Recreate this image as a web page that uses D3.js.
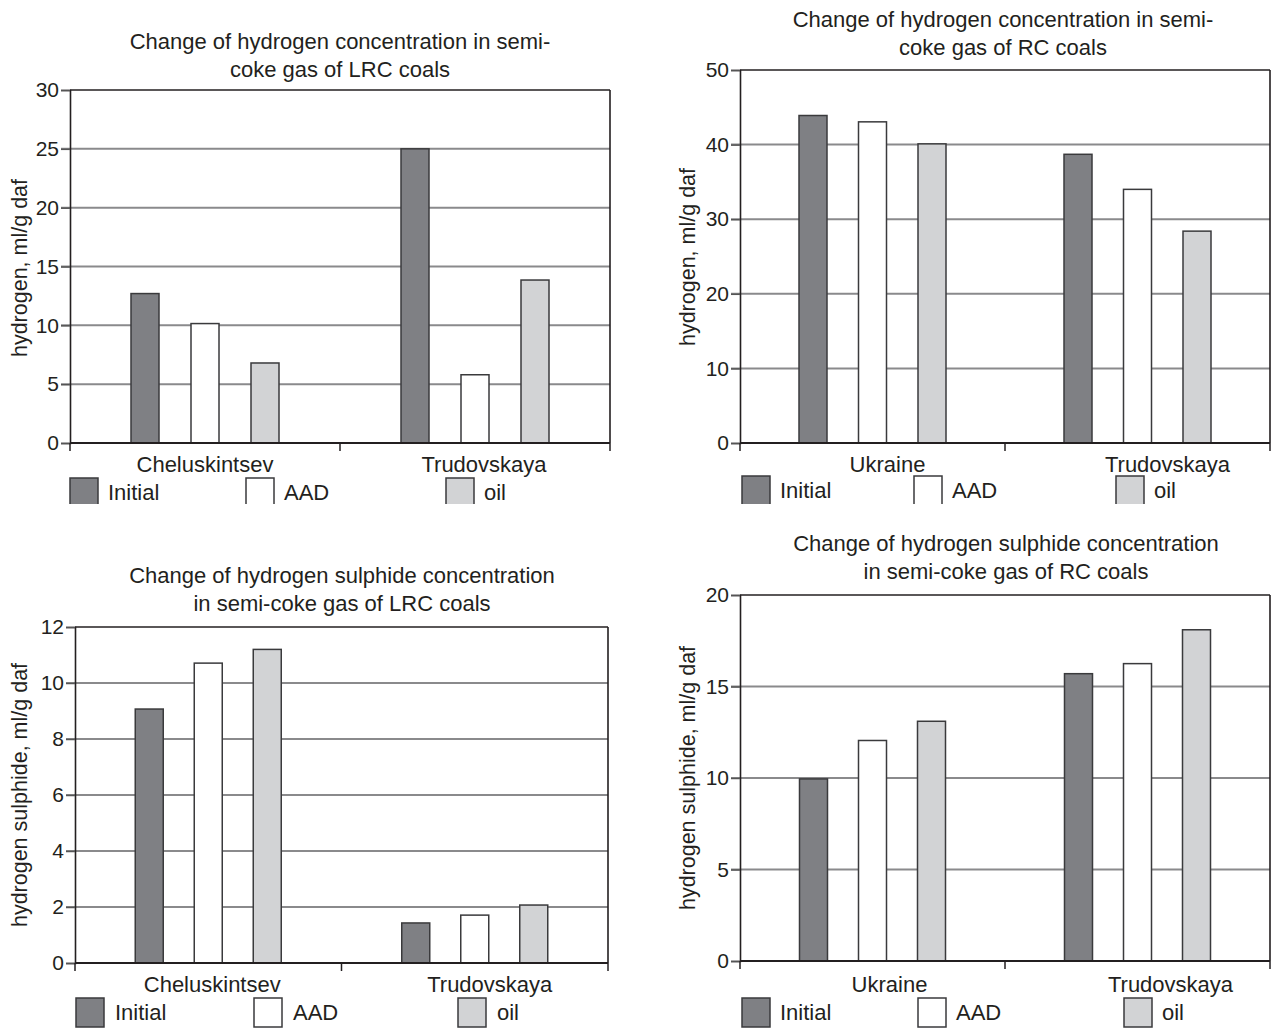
<!DOCTYPE html>
<html><head><meta charset="utf-8">
<script src="https://cdn.jsdelivr.net/npm/d3@7"></script>
<style>
html,body{margin:0;padding:0;background:#fff;}
svg{display:block;font-family:"Liberation Sans",Arial,sans-serif;}
</style></head>
<body>
<svg id="chart" width="1275" height="1028"></svg>
<script>
// ---------- DATA ----------
const seriesNames = ["Initial", "AAD", "oil"];
const seriesColors = ["#7f8084", "#ffffff", "#d2d3d5"];

const lrcCategories = ["Cheluskintsev", "Trudovskaya"];
const rcCategories = ["Ukraine", "Trudovskaya"];

// Hydrogen, LRC coals (ml/g daf)
const h2LrcInitial = [12.7, 25.0];
const h2LrcAAD = [10.15, 5.8];
const h2LrcOil = [6.8, 13.85];

// Hydrogen, RC coals
const h2RcInitial = [43.9, 38.7];
const h2RcAAD = [43.05, 34.0];
const h2RcOil = [40.1, 28.4];

// Hydrogen sulphide, LRC coals
const h2sLrcInitial = [9.07, 1.43];
const h2sLrcAAD = [10.71, 1.71];
const h2sLrcOil = [11.2, 2.07];

// Hydrogen sulphide, RC coals
const h2sRcInitial = [9.95, 15.7];
const h2sRcAAD = [12.05, 16.25];
const h2sRcOil = [13.1, 18.1];

const h2LrcTicks = [0, 5, 10, 15, 20, 25, 30];
const h2RcTicks = [0, 10, 20, 30, 40, 50];
const h2sLrcTicks = [0, 2, 4, 6, 8, 10, 12];
const h2sRcTicks = [0, 5, 10, 15, 20];

// ---------- DRAW ----------
const svg = d3.select("#chart");
const defs = svg.append("defs");
const FS = 22;

function panel(cfg) {
  const g = svg.append("g");
  const y = d3.scaleLinear().domain([0, d3.max(cfg.ticks)]).range([cfg.bottom, cfg.top]);
  const x0 = d3.scaleBand().domain(cfg.categories).range([cfg.left, cfg.right]).padding(0);
  const x1 = d3.scalePoint().domain(seriesNames).range([-cfg.spacing, cfg.spacing]);
  const bw = 28;

  // title
  cfg.title.forEach((t, i) => {
    g.append("text").attr("x", cfg.titleX).attr("y", cfg.titleY + i * 28)
      .attr("text-anchor", "middle").attr("font-size", FS).attr("fill", "#231f20").text(t);
  });

  // grid
  g.append("g").selectAll("line").data(cfg.ticks.filter(t => t > 0 && t < d3.max(cfg.ticks)))
    .join("line")
    .attr("x1", cfg.left - 9).attr("x2", cfg.right)
    .attr("y1", d => y(d)).attr("y2", d => y(d))
    .attr("stroke", "#8a8a8c").attr("stroke-width", 2);

  // y axis via d3 axis
  const yAxis = d3.axisLeft(y).tickValues(cfg.ticks).tickSize(9).tickPadding(2).tickFormat(d3.format("d"));
  const ya = g.append("g").attr("transform", `translate(${cfg.left},0)`).call(yAxis);
  ya.select(".domain").attr("stroke", "#231f20").attr("stroke-width", 1.6);
  ya.selectAll(".tick line").attr("stroke", "#555").attr("stroke-width", 1.5);
  ya.selectAll(".tick text").attr("font-size", 21).attr("fill", "#231f20")
    .attr("font-family", "Liberation Sans, Arial, sans-serif");

  // top and right border
  g.append("line").attr("x1", cfg.left).attr("x2", cfg.right).attr("y1", y(d3.max(cfg.ticks))).attr("y2", y(d3.max(cfg.ticks)))
    .attr("stroke", "#231f20").attr("stroke-width", 1.6);
  g.append("line").attr("x1", cfg.right).attr("x2", cfg.right).attr("y1", cfg.top).attr("y2", cfg.bottom)
    .attr("stroke", "#231f20").attr("stroke-width", 1.6);

  // bars
  const seriesData = cfg.series;
  const grp = g.append("g").selectAll("g").data(cfg.categories).join("g");
  grp.selectAll("rect").data((c, ci) => seriesNames.map((s, si) => ({c, s, si, v: seriesData[si][ci]})))
    .join("rect")
    .attr("x", d => x0(d.c) + x0.bandwidth() / 2 + x1(d.s) - bw / 2)
    .attr("width", bw)
    .attr("y", d => y(d.v))
    .attr("height", d => y(0) - y(d.v))
    .attr("fill", d => seriesColors[d.si])
    .attr("stroke", "#3a3a3c").attr("stroke-width", 1.5);

  // x axis
  const xa = g.append("g").attr("transform", `translate(0,${cfg.bottom})`);
  xa.append("line").attr("x1", cfg.left).attr("x2", cfg.right).attr("y1", 0).attr("y2", 0)
    .attr("stroke", "#231f20").attr("stroke-width", 1.8);
  const bounds = [cfg.left, x0(cfg.categories[1]), cfg.right];
  xa.selectAll("line.tk").data(bounds).join("line").attr("class", "tk")
    .attr("x1", d => d).attr("x2", d => d).attr("y1", 0).attr("y2", 8)
    .attr("stroke", "#231f20").attr("stroke-width", 1.5);
  xa.selectAll("text").data(cfg.categories).join("text")
    .attr("x", (d, i) => x0(d) + x0.bandwidth() / 2 + cfg.labelShift[i])
    .attr("y", cfg.catLabelY - cfg.bottom)
    .attr("text-anchor", "middle").attr("font-size", FS).attr("fill", "#231f20").text(d => d);

  // y label
  g.append("text").attr("transform", `translate(${cfg.yLabelX},${cfg.yLabelY}) rotate(-90)`)
    .attr("text-anchor", "middle").attr("font-size", 21.5).attr("fill", "#231f20").text(cfg.yLabel);

  // legend
  const clipId = "clip" + cfg.id;
  defs.append("clipPath").attr("id", clipId).append("rect")
    .attr("x", 0).attr("y", 0).attr("width", 1275).attr("height", cfg.legendClip);
  const lg = g.append("g").attr("clip-path", `url(#${clipId})`);
  seriesNames.forEach((s, i) => {
    lg.append("rect").attr("x", cfg.legendX[i]).attr("y", cfg.legendY).attr("width", 28).attr("height", 29)
      .attr("fill", seriesColors[i]).attr("stroke", "#3a3a3c").attr("stroke-width", 1.5);
    lg.append("text").attr("x", cfg.legendX[i] + cfg.legendTextGap).attr("y", cfg.legendY + 22)
      .attr("font-size", FS).attr("fill", "#231f20").text(s);
  });
}

panel({
  id: 1, left: 70, right: 610, top: 90, bottom: 443, ticks: h2LrcTicks, spacing: 60,
  categories: lrcCategories, series: [h2LrcInitial, h2LrcAAD, h2LrcOil],
  title: ["Change of hydrogen concentration in semi-", "coke gas of LRC coals"], titleX: 340, titleY: 49,
  yLabel: "hydrogen, ml/g daf", yLabelX: 27, yLabelY: 268,
  catLabelY: 472, labelShift: [0, 9],
  legendX: [70, 246, 446], legendY: 478, legendTextGap: 38, legendClip: 504
});

panel({
  id: 2, left: 740, right: 1270, top: 70, bottom: 443, ticks: h2RcTicks, spacing: 59.5,
  categories: rcCategories, series: [h2RcInitial, h2RcAAD, h2RcOil],
  title: ["Change of hydrogen concentration in semi-", "coke gas of RC coals"], titleX: 1003, titleY: 27,
  yLabel: "hydrogen, ml/g daf", yLabelX: 695, yLabelY: 257,
  catLabelY: 472, labelShift: [15, 30],
  legendX: [742, 914, 1116], legendY: 476, legendTextGap: 38, legendClip: 504
});

panel({
  id: 3, left: 75, right: 608, top: 627, bottom: 963, ticks: h2sLrcTicks, spacing: 59,
  categories: lrcCategories, series: [h2sLrcInitial, h2sLrcAAD, h2sLrcOil],
  title: ["Change of hydrogen sulphide concentration", "in  semi-coke gas of LRC coals"], titleX: 342, titleY: 583,
  yLabel: "hydrogen sulphide, ml/g daf", yLabelX: 27, yLabelY: 795,
  catLabelY: 992, labelShift: [4, 15],
  legendX: [76, 254, 458], legendY: 998, legendTextGap: 39, legendClip: 1028
});

panel({
  id: 4, left: 740, right: 1270, top: 595, bottom: 961, ticks: h2sRcTicks, spacing: 59,
  categories: rcCategories, series: [h2sRcInitial, h2sRcAAD, h2sRcOil],
  title: ["Change of hydrogen sulphide concentration", "in semi-coke gas of RC coals"], titleX: 1006, titleY: 551,
  yLabel: "hydrogen sulphide, ml/g daf", yLabelX: 695, yLabelY: 778,
  catLabelY: 992, labelShift: [17, 33],
  legendX: [742, 918, 1124], legendY: 998, legendTextGap: 38, legendClip: 1028
});
</script>
</body></html>
